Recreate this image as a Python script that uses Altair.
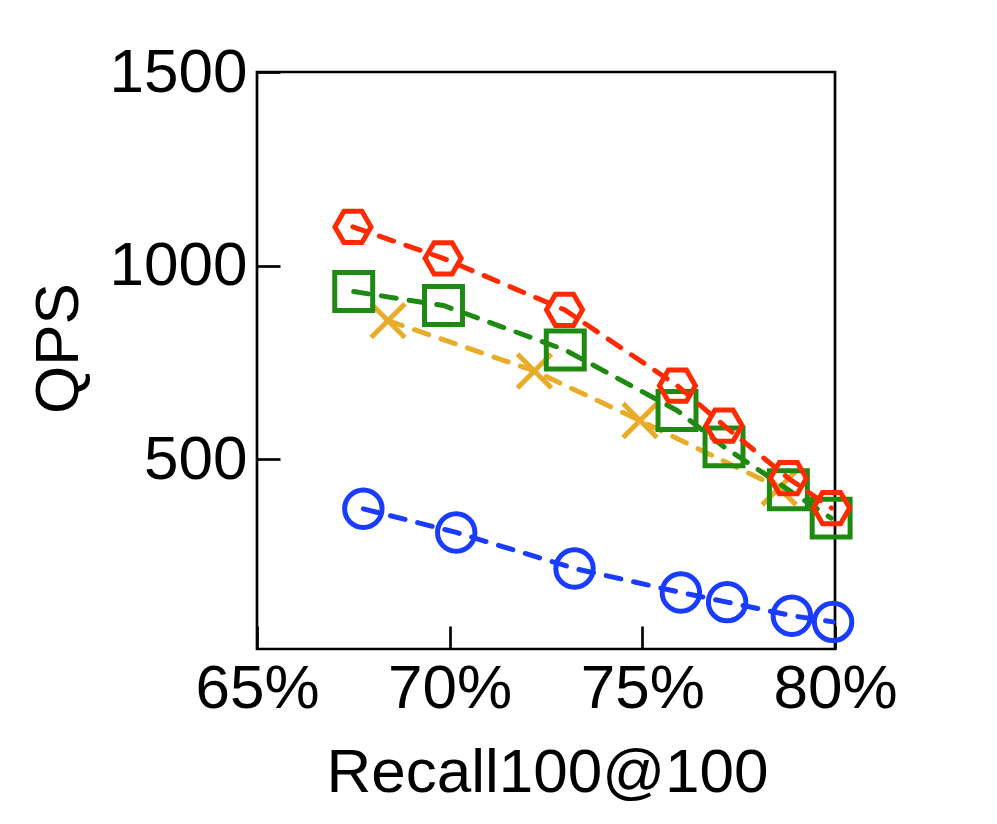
import altair as alt
import pandas as pd

# ---- data ----
red_recall = [67.49, 69.83, 72.98, 75.91, 77.12, 78.79, 79.91]
red_qps = [1100, 1019, 886, 690, 587, 451, 374]

green_recall = [67.51, 69.84, 73.00, 75.90, 77.12, 78.79, 79.90]
green_qps = [933, 897, 782, 626, 532, 421, 348]

yellow_recall = [68.40, 72.20, 74.94, 78.55]
yellow_qps = [858, 728, 600, 426]

blue_recall = [67.76, 70.17, 73.24, 76.00, 77.20, 78.88, 79.95]
blue_qps = [372, 311, 218, 156, 131, 96, 80]

x_ticks = [65, 70, 75, 80]
y_ticks = [500, 1000, 1500]

RED = "#ff2a00"
GREEN = "#1f8a12"
YELLOW = "#e8ab2a"
BLUE = "#1a3cff"

W, H = 578, 577
FONT = "Liberation Sans"
TICK = 23

HEX = "M -1 0 L -0.5 -0.866 L 0.5 -0.866 L 1 0 L 0.5 0.866 L -0.5 0.866 Z"
XSHAPE = "M -1 -1 L 1 1 M -1 1 L 1 -1"

xscale = alt.Scale(domain=[65, 80], nice=False, zero=False)
yscale = alt.Scale(domain=[10, 1500], nice=False, zero=False)

# axes are pulled inside the frame by TICK px so that their ticks point inward
xaxis = alt.Axis(
    values=x_ticks, labelExpr="datum.value + '%'", title="Recall100@100",
    grid=False, domain=False, ticks=True, tickSize=TICK, tickWidth=2.7,
    tickColor="black", offset=-TICK,
    labelFont=FONT, labelFontSize=62, labelColor="black", labelPadding=9,
    labelFlush=False, labelOverlap=False,
    titleFont=FONT, titleFontSize=62, titleFontWeight="normal", titleColor="black",
    titleX=290, titleY=142 + TICK, titleBaseline="alphabetic", titleAlign="center",
)
yaxis = alt.Axis(
    values=y_ticks, format="d", title="QPS",
    grid=False, domain=False, ticks=True, tickSize=TICK, tickWidth=2.7,
    tickColor="black", offset=-TICK,
    labelFont=FONT, labelFontSize=62, labelColor="black", labelPadding=10,
    labelBaseline="middle", labelFlush=False, labelOverlap=False,
    titleFont=FONT, titleFontSize=62, titleFontWeight="normal", titleColor="black",
    titleAngle=270, titleX=-180 - TICK, titleY=276, titleBaseline="alphabetic",
    titleAlign="center",
)

X = alt.X("recall:Q", scale=xscale, axis=xaxis)
Y = alt.Y("qps:Q", scale=yscale, axis=yaxis)


def series(recall, qps, color, shape, size):
    df = pd.DataFrame({"recall": recall, "qps": qps})
    base = alt.Chart(df).encode(x=X, y=Y)
    line = base.mark_line(
        color=color, strokeWidth=5, strokeDash=[15, 13], strokeCap="round"
    )
    pts = base.mark_point(
        shape=shape, size=size, stroke=color, strokeWidth=5, filled=False, opacity=1
    )
    return [line, pts]


layers = []
layers += series(blue_recall, blue_qps, BLUE, "circle", 1400)
layers += series(yellow_recall, yellow_qps, YELLOW, XSHAPE, 1150)
layers += series(green_recall, green_qps, GREEN, "square", 1440)
layers += series(red_recall, red_qps, RED, HEX, 1300)

chart = alt.layer(*layers).properties(
    width=W, height=H,
    autosize=alt.AutoSizeParams(type="none"),
    padding={"left": 249, "top": 64, "right": 140, "bottom": 172},
    background="white",
).configure_view(stroke="black", strokeWidth=2.7)

chart.save("out.html", embed_options={"renderer": "svg", "actions": False})
